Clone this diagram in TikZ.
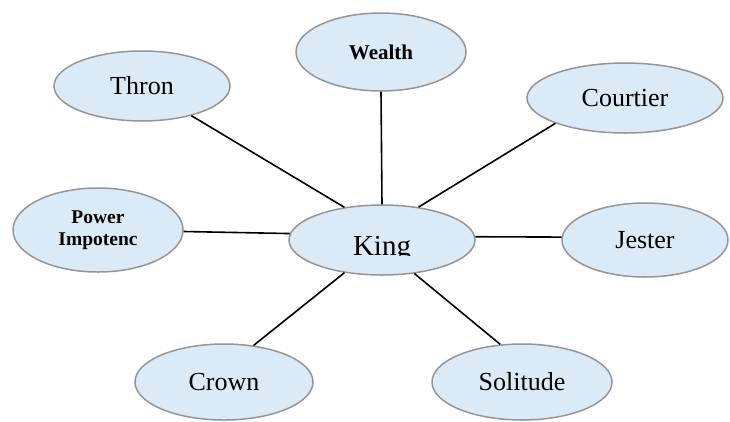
\documentclass[tikz,border=0pt]{standalone}
\usepackage{fontspec}
\setmainfont{Liberation Serif}
\usetikzlibrary{shapes.geometric}
\definecolor{bubblefill}{HTML}{DAEAF6}
\definecolor{bubblerim}{HTML}{959595}
\begin{document}
\begin{tikzpicture}[x=1pt,y=-1pt,
  bubble/.style={ellipse, draw=bubblerim, line width=1.5pt, fill=bubblefill,
                 inner sep=0pt, font=\fontsize{26}{28}\selectfont},
  boldbubble/.style={bubble, font=\bfseries\fontsize{21}{22}\selectfont},
  link/.style={line width=1.6pt, black}]
  \useasboundingbox (0,0) rectangle (730,421);

  % central concept and its satellites
  \node[bubble, minimum width=186pt, minimum height=70pt] (king) at (382,240) {};
  \begin{scope}
    \clip (290,200) rectangle (474,255.5);
    \node[font=\fontsize{29}{30}\selectfont, anchor=base, inner sep=0pt] (kinglabel) at (382,255) {King};
  \end{scope}

  \node[bubble, minimum width=176pt, minimum height=70pt] (thron) at (142,86) {Thron};
  \node[boldbubble, minimum width=170pt, minimum height=78pt] (wealth) at (381,52) {Wealth};
  \node[bubble, minimum width=196pt, minimum height=70pt] (courtier) at (625,98) {Courtier};
  \node[boldbubble, minimum width=170pt, minimum height=84pt, align=center,
        font=\bfseries\fontsize{19.5}{22}\selectfont] (power) at (98,230) {Power\\Impotenc};
  \node[bubble, minimum width=166pt, minimum height=74pt] (jester) at (645,240) {Jester};
  \node[bubble, minimum width=178pt, minimum height=76pt] (crown) at (224,382) {Crown};
  \node[bubble, minimum width=180pt, minimum height=76pt] (solitude) at (522,382) {Solitude};

  % spokes
  \draw[link] (thron.-31) -- (king.139);
  \draw[link] (wealth.south) -- (king.north);
  \draw[link] (courtier.200) -- (king.42);
  \draw[link] (power.-1) -- (king.176);
  \draw[link] (jester.178) -- (king.2);
  \draw[link] (crown.51) -- (king.221);
  \draw[link] (solitude.120) -- (king.-46);
\end{tikzpicture}
\end{document}
